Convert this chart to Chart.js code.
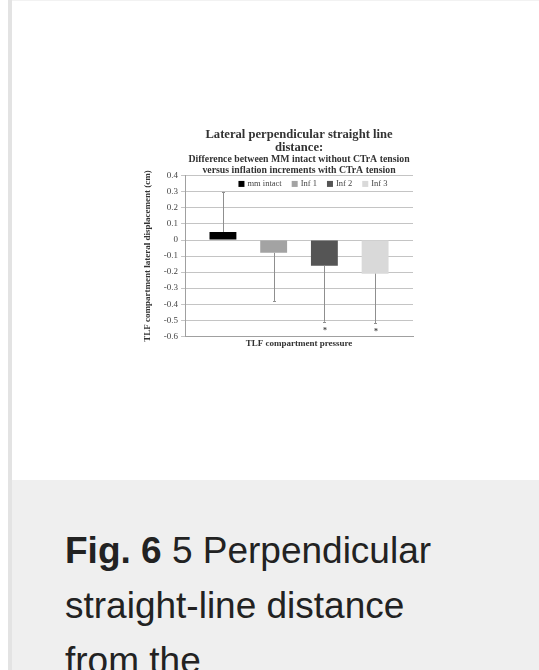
<!DOCTYPE html>
<html>
<head>
<meta charset="utf-8">
<script src="https://cdn.jsdelivr.net/npm/chart.js@4/dist/chart.umd.min.js"></script>
<style>
  html, body { margin:0; padding:0; width:539px; height:670px; overflow:hidden; background:#fff; }
  #frame { position:absolute; left:8px; top:0; width:531px; height:670px; border-left:4px solid #e3e3e3; box-sizing:border-box; }
  #topline { position:absolute; left:12px; top:0; width:527px; height:1px; background:#f2f2f2; }
  #chartbox { position:absolute; left:130px; top:128px; width:290px; height:224px; }
  #caption { position:absolute; left:12px; top:480px; width:527px; height:190px; background:#efefef; }
  #captext { position:absolute; left:53px; top:43px; width:405px; font-family:"Liberation Sans", Arial, sans-serif; font-size:37px; line-height:55px; color:#222; }
</style>
</head>
<body>
<div id="frame"></div>
<div id="topline"></div>
<div id="chartbox"><canvas id="c" width="290" height="224"></canvas></div>
<div id="caption"><div id="captext"><b>Fig. 6</b> 5 Perpendicular straight-line distance from the</div></div>
<script>
const categories = ["TLF compartment pressure"];
const seriesLabels = ["mm intact", "Inf 1", "Inf 2", "Inf 3"];
const seriesValues = [0.05, -0.08, -0.16, -0.21];
const errorEnds = [0.30, -0.38, -0.51, -0.52];
const significance = ["", "", "*", "*"];
const seriesColors = ["#000000", "#a3a3a3", "#555555", "#d9d9d9"];
const yTickValues = [0.4, 0.3, 0.2, 0.1, 0, -0.1, -0.2, -0.3, -0.4, -0.5, -0.6];
const yTickLabels = ["0.4", "0.3", "0.2", "0.1", "0", "-0.1", "-0.2", "-0.3", "-0.4", "-0.5", "-0.6"];

const SERIF = '"Liberation Serif", "Times New Roman", serif';

const datasets = seriesLabels.map((lab, i) => ({
  label: lab,
  data: [seriesValues[i]],
  backgroundColor: seriesColors[i],
  borderColor: seriesColors[i],
  borderWidth: 0,
  categoryPercentage: 0.89,
  barPercentage: 0.53
}));

const errorPlugin = {
  id: 'errorBars',
  afterDatasetsDraw(chart) {
    const ctx = chart.ctx;
    const y = chart.scales.y;
    ctx.save();
    chart.data.datasets.forEach((ds, i) => {
      const bar = chart.getDatasetMeta(i).data[0];
      const x = Math.round(bar.x);
      const y0 = y.getPixelForValue(seriesValues[i]);
      const y1 = y.getPixelForValue(errorEnds[i]);
      ctx.strokeStyle = '#8f8f8f';
      ctx.lineWidth = 1;
      ctx.beginPath();
      ctx.moveTo(x + 0.5, y0);
      ctx.lineTo(x + 0.5, y1);
      ctx.stroke();
      ctx.beginPath();
      ctx.moveTo(x - 1, Math.round(y1) + 0.5);
      ctx.lineTo(x + 2, Math.round(y1) + 0.5);
      ctx.stroke();
      if (significance[i]) {
        ctx.fillStyle = '#444';
        ctx.font = 'bold 8px ' + SERIF;
        ctx.textAlign = 'center';
        ctx.textBaseline = 'middle';
        ctx.fillText(significance[i], x + 1, y1 + 9);
      }
    });
    ctx.restore();
  }
};

const innerLegend = {
  id: 'innerLegend',
  afterDraw(chart) {
    const ctx = chart.ctx;
    ctx.save();
    ctx.font = '8.5px ' + SERIF;
    ctx.textBaseline = 'middle';
    const box = 6, gap = 3, itemGap = 10;
    const widths = chart.data.datasets.map(ds => box + gap + ctx.measureText(ds.label).width);
    const total = widths.reduce((a, b) => a + b, 0) + itemGap * (widths.length - 1);
    let x = 313 - 130 - total / 2;
    const yc = chart.scales.y.getPixelForValue(0.35);
    chart.data.datasets.forEach((ds, i) => {
      ctx.fillStyle = ds.backgroundColor;
      ctx.fillRect(x, yc - box / 2, box, box);
      ctx.fillStyle = '#444';
      ctx.fillText(ds.label, x + box + gap, yc);
      x += widths[i] + itemGap;
    });
    ctx.restore();
  }
};

new Chart(document.getElementById('c'), {
  type: 'bar',
  data: { labels: categories, datasets },
  options: {
    responsive: false,
    animation: false,
    devicePixelRatio: 1,
    layout: { padding: { left: 12, right: 7, top: 0, bottom: 3 } },
    plugins: {
      legend: { display: false },
      tooltip: { enabled: false },
      title: {
        display: true,
        fullSize: false,
        text: ["Lateral perpendicular straight line", "distance:"],
        color: '#333',
        font: { family: SERIF, size: 12.6, weight: 'bold', lineHeight: 1.03 },
        padding: { top: 0, bottom: 0 }
      },
      subtitle: {
        display: true,
        fullSize: false,
        text: ["Difference between MM intact without CTrA tension", "versus inflation increments with CTrA tension"],
        color: '#333',
        font: { family: SERIF, size: 9.8, weight: 'bold', lineHeight: 1.12 },
        padding: { top: 0, bottom: 0 }
      }
    },
    scales: {
      x: {
        grid: { display: false, drawTicks: false },
        border: { display: true, color: '#a0a0a0' },
        ticks: { display: false },
        title: {
          display: true,
          text: "TLF compartment pressure",
          color: '#333',
          font: { family: SERIF, size: 9, weight: 'bold' },
          padding: { top: 2, bottom: 0 }
        }
      },
      y: {
        min: -0.6,
        max: 0.4,
        afterBuildTicks(scale) { scale.ticks = yTickValues.map(v => ({ value: v })); },
        ticks: {
          color: '#444',
          font: { family: SERIF, size: 9 },
          padding: 3,
          callback: (v, idx) => yTickLabels[idx]
        },
        grid: { color: '#c4c4c4', tickLength: 4, drawTicks: true },
        border: { display: true, color: '#a0a0a0' },
        title: {
          display: true,
          text: "TLF compartment lateral displacement (cm)",
          color: '#333',
          font: { family: SERIF, size: 9, weight: 'bold' },
          padding: { top: 0, bottom: 8 }
        }
      }
    }
  },
  plugins: [errorPlugin, innerLegend]
});
</script>
</body>
</html>
